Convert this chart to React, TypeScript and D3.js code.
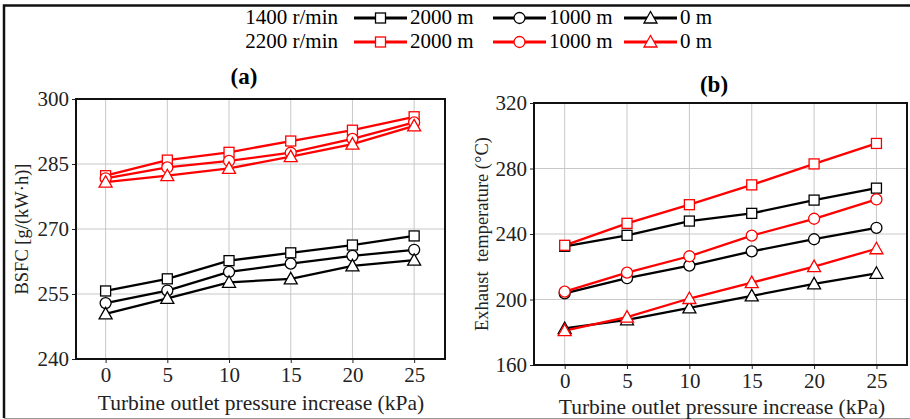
import React, { useEffect, useRef } from "react";
import * as d3 from "d3";

const pressures = [0, 5, 10, 15, 20, 25];

// panel (a) BSFC, g/(kW·h)
const bsfc1400_2000 = [255.7, 258.5, 262.7, 264.5, 266.3, 268.4];
const bsfc1400_1000 = [252.9, 255.8, 260.1, 262.0, 263.8, 265.2];
const bsfc1400_0 = [250.4, 254.0, 257.7, 258.5, 261.5, 262.8];
const bsfc2200_2000 = [282.3, 285.9, 287.7, 290.3, 292.8, 295.9];
const bsfc2200_1000 = [281.7, 284.2, 285.7, 287.6, 290.8, 294.6];
const bsfc2200_0 = [280.8, 282.3, 284.0, 286.7, 289.6, 293.8];

// panel (b) exhaust temperature, °C
const temp1400_2000 = [232.5, 239.2, 247.9, 252.6, 260.7, 268.0];
const temp1400_1000 = [203.8, 213.0, 220.7, 229.4, 236.8, 243.8];
const temp1400_0 = [182.3, 187.6, 194.9, 202.2, 209.5, 216.0];
const temp2200_2000 = [233.1, 246.5, 257.9, 270.0, 282.8, 295.3];
const temp2200_1000 = [204.8, 216.4, 226.4, 239.0, 249.3, 261.1];
const temp2200_0 = [181.0, 189.2, 200.6, 210.3, 220.1, 231.0];

const bsfcTicks = [240, 255, 270, 285, 300];
const tempTicks = [160, 200, 240, 280, 320];
const altitudes = ["2000 m", "1000 m", "0 m"];
const speeds = ["1400 r/min", "2200 r/min"];

const BLACK = "#000000";
const RED = "#ff0000";
const FONT = "'Liberation Serif', 'Times New Roman', serif";

type Series = { values: number[]; color: string; shape: string };

export default function App() {
  const svgRef = useRef<SVGSVGElement | null>(null);

  useEffect(() => {
    document.body.style.margin = "0";
    const svg = d3.select(svgRef.current);
    svg.selectAll("*").remove();

    // outer frame: heavy top and left edges, faint bottom edge
    svg.append("path").attr("d", "M4,418V5.5H910")
      .attr("fill", "none").attr("stroke", "#111").attr("stroke-width", 2.5);
    svg.append("line").attr("x1", 4).attr("x2", 910).attr("y1", 418.5).attr("y2", 418.5)
      .attr("stroke", "#999").attr("stroke-width", 1);

    const shapes = ["square", "circle", "triangle"];

    function marker(g: any, shape: string, x: number, y: number, color: string) {
      if (shape === "square") {
        g.append("rect").attr("x", x - 5).attr("y", y - 5).attr("width", 10).attr("height", 10)
          .attr("fill", "white").attr("stroke", color).attr("stroke-width", 1.3);
      } else if (shape === "circle") {
        g.append("circle").attr("cx", x).attr("cy", y).attr("r", 5.5)
          .attr("fill", "white").attr("stroke", color).attr("stroke-width", 1.3);
      } else {
        g.append("path")
          .attr("d", `M${x},${y - 6.5}L${x + 6.5},${y + 5}L${x - 6.5},${y + 5}Z`)
          .attr("fill", "white").attr("stroke", color).attr("stroke-width", 1.3);
      }
    }

    function panel(opts: {
      left: number; right: number; top: number; bottom: number;
      xDomain: number[]; yDomain: number[]; yTicks: number[];
      series: Series[]; title: string; titleX: number; titleY: number;
      yLabel: string; yLabelX: number; xLabelX: number; xLabelY: number;
    }) {
      const x = d3.scaleLinear().domain(opts.xDomain).range([opts.left, opts.right]);
      const y = d3.scaleLinear().domain(opts.yDomain).range([opts.bottom, opts.top]);
      const g = svg.append("g");

      // grid
      g.selectAll(".gx").data(pressures).enter().append("line")
        .attr("x1", d => x(d)).attr("x2", d => x(d))
        .attr("y1", opts.top).attr("y2", opts.bottom)
        .attr("stroke", "#c8c8c8").attr("stroke-width", 1);
      g.selectAll(".gy").data(opts.yTicks).enter().append("line")
        .attr("x1", opts.left).attr("x2", opts.right)
        .attr("y1", d => y(d)).attr("y2", d => y(d))
        .attr("stroke", "#c8c8c8").attr("stroke-width", 1);

      const xAxis = g.append("g").attr("transform", `translate(0,${opts.bottom})`)
        .call(d3.axisBottom(x).tickValues(pressures).tickSize(4).tickPadding(4));
      const yAxis = g.append("g").attr("transform", `translate(${opts.left},0)`)
        .call(d3.axisLeft(y).tickValues(opts.yTicks).tickSize(4).tickPadding(3));
      [xAxis, yAxis].forEach(a => {
        a.select(".domain").remove();
        a.selectAll("line").attr("stroke", "#222");
        a.selectAll("text").attr("font-family", FONT).attr("font-size", 21).attr("fill", "#222");
      });

      g.append("rect")
        .attr("x", opts.left).attr("y", opts.top)
        .attr("width", opts.right - opts.left).attr("height", opts.bottom - opts.top)
        .attr("fill", "none").attr("stroke", "#111").attr("stroke-width", 2);

      const line = d3.line<number>().x((_, i) => x(pressures[i])).y(d => y(d));
      opts.series.forEach(s => {
        g.append("path").datum(s.values).attr("d", line)
          .attr("fill", "none").attr("stroke", s.color).attr("stroke-width", 2.3);
      });
      opts.series.forEach(s => {
        s.values.forEach((v, i) => marker(g, s.shape, x(pressures[i]), y(v), s.color));
      });

      g.append("text").attr("x", opts.titleX).attr("y", opts.titleY)
        .attr("text-anchor", "middle").attr("font-family", FONT).attr("font-weight", "bold")
        .attr("font-size", 23).text(opts.title);

      g.append("text")
        .attr("transform", `translate(${opts.yLabelX},${(opts.top + opts.bottom) / 2}) rotate(-90)`)
        .attr("text-anchor", "middle").attr("font-family", FONT).attr("font-size", 18.5)
        .attr("fill", "#222").attr("xml:space", "preserve").text(opts.yLabel);

      g.append("text").attr("x", opts.xLabelX).attr("y", opts.xLabelY)
        .attr("text-anchor", "middle").attr("font-family", FONT).attr("font-size", 21.5)
        .attr("fill", "#222").text("Turbine outlet pressure increase (kPa)");
    }

    panel({
      left: 76, right: 445, top: 99, bottom: 359,
      xDomain: [-2.4, 27.5], yDomain: [240, 300], yTicks: bsfcTicks,
      series: [
        { values: bsfc1400_2000, color: BLACK, shape: "square" },
        { values: bsfc1400_1000, color: BLACK, shape: "circle" },
        { values: bsfc1400_0, color: BLACK, shape: "triangle" },
        { values: bsfc2200_2000, color: RED, shape: "square" },
        { values: bsfc2200_1000, color: RED, shape: "circle" },
        { values: bsfc2200_0, color: RED, shape: "triangle" },
      ],
      title: "(a)", titleX: 244, titleY: 84,
      yLabel: "BSFC [g/(kW·h)]", yLabelX: 28, xLabelX: 261, xLabelY: 410,
    });

    panel({
      left: 534, right: 907, top: 103, bottom: 365,
      xDomain: [-2.46, 27.45], yDomain: [160, 320], yTicks: tempTicks,
      series: [
        { values: temp1400_2000, color: BLACK, shape: "square" },
        { values: temp1400_1000, color: BLACK, shape: "circle" },
        { values: temp1400_0, color: BLACK, shape: "triangle" },
        { values: temp2200_2000, color: RED, shape: "square" },
        { values: temp2200_1000, color: RED, shape: "circle" },
        { values: temp2200_0, color: RED, shape: "triangle" },
      ],
      title: "(b)", titleX: 714, titleY: 92,
      yLabel: "Exhaust  temperature (°C)", yLabelX: 488, xLabelX: 722, xLabelY: 414,
    });

    // legend
    const lg = svg.append("g");
    const starts = [354, 493, 624];
    speeds.forEach((sp, r) => {
      const yy = 18 + r * 24;
      const color = r === 0 ? BLACK : RED;
      lg.append("text").attr("x", 338).attr("y", yy + 6).attr("text-anchor", "end")
        .attr("font-family", FONT).attr("font-size", 21).text(sp);
      altitudes.forEach((alt, k) => {
        const x0 = starts[k];
        lg.append("line").attr("x1", x0).attr("x2", x0 + 53).attr("y1", yy).attr("y2", yy)
          .attr("stroke", color).attr("stroke-width", 3);
        marker(lg, shapes[k], x0 + 26.5, yy, color);
        lg.append("text").attr("x", x0 + 56).attr("y", yy + 6)
          .attr("font-family", FONT).attr("font-size", 21).text(alt);
      });
    });
  }, []);

  return <svg ref={svgRef} width={910} height={419} style={{ display: "block" }} />;
}
